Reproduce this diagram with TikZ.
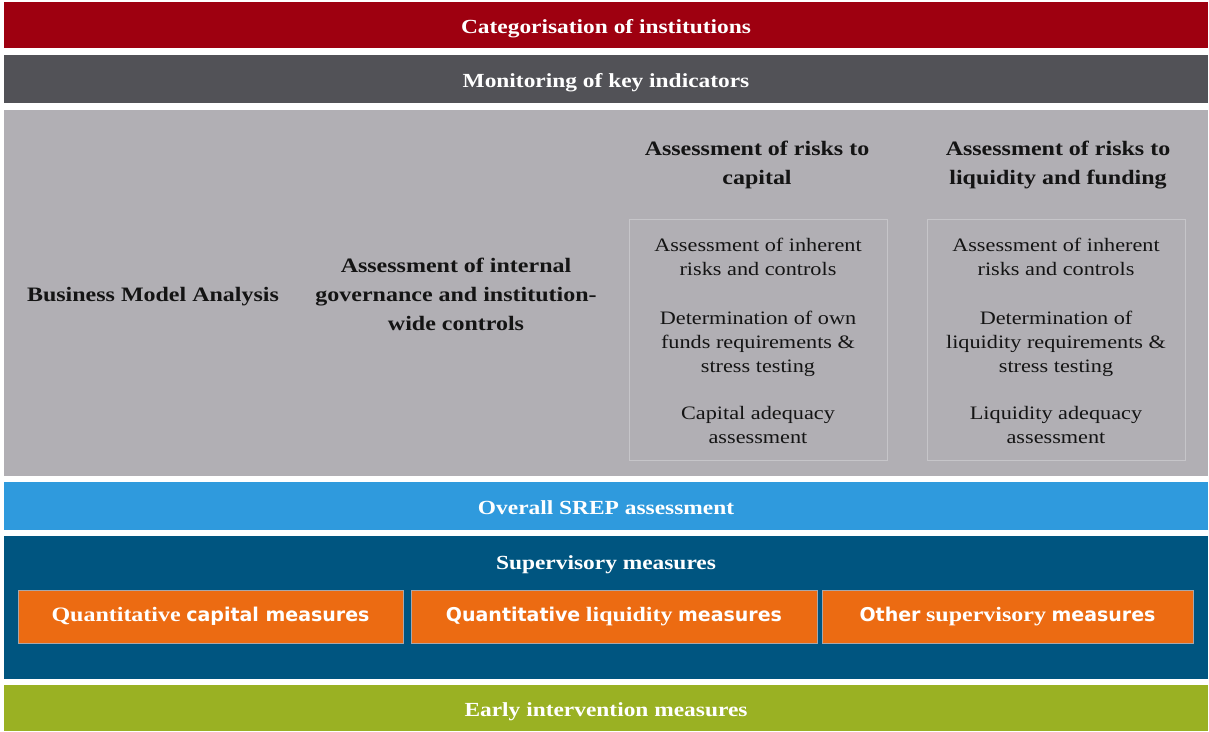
\documentclass[tikz,border=0pt]{standalone}
\usepackage{fontspec}
\setmainfont{Liberation Serif}[FakeStretch=1.17]
\newfontfamily\srepsans{DejaVu Sans}
\definecolor{srepred}{HTML}{9E0010}
\definecolor{srepdark}{HTML}{525257}
\definecolor{sreplight}{HTML}{B1AFB4}
\definecolor{srepframe}{HTML}{C6C5C9}
\definecolor{srepblue}{HTML}{2F9ADD}
\definecolor{srepnavy}{HTML}{005580}
\definecolor{sreporange}{HTML}{EC6B12}
\definecolor{srepgreen}{HTML}{9AB123}
\definecolor{sreptext}{HTML}{141414}
\newcommand{\srepbandsize}{\fontsize{20}{24}\selectfont}
\newcommand{\srepheadsize}{\fontsize{20.5}{29}\selectfont}
\newcommand{\srepbodysize}{\fontsize{19}{24}\selectfont}
\newcommand{\srepboxsize}{\fontsize{19}{22}\selectfont}
\newcommand{\srepboxserif}{\fontsize{20.5}{22}\selectfont}

\begin{document}
\begin{tikzpicture}[x=1pt,y=-1pt]
			\useasboundingbox (0,0) rectangle (1209,731);
			\begin{scope}[inner sep=0pt,outer sep=0pt]
			\tikzstyle{every node}=[rectangle]
			\tikzstyle{band}=[minimum width=1204,minimum height=48,text height=16,text depth=0,text=white,font=\bfseries\srepbandsize]
			\tikzstyle{head}=[text=sreptext,align=center,font=\bfseries\srepheadsize]
			\tikzstyle{body}=[text=sreptext,align=center,font=\srepbodysize]
			\tikzstyle{frame}=[draw=srepframe,line width=0.8pt,minimum width=258,minimum height=241]
			\tikzstyle{measure}=[draw=srepframe!85!black,line width=1pt,fill=sreporange,minimum height=53,text=white,font=\bfseries\srepboxsize]
			% bands
			\node[band,fill=srepred,minimum height=46] (cat) at (606,25) {Categorisation of institutions};
			\node[band,fill=srepdark] (mon) at (606,79) {Monitoring of key indicators};
			\node[band,fill=sreplight,minimum height=366] (ana) at (606,293) {};
			\node[band,fill=srepblue] (srep) at (606,506) {Overall SREP assessment};
			\node[band,fill=srepnavy,minimum height=143] (sup) at (606,607.5) {};
			\node[band,fill=srepgreen,minimum height=46] (early) at (606,708) {Early intervention measures};
			% analysis elements
			\node[head] (bma) at (153,297) {Business Model Analysis};
			\node[head] (gov) at (456,294) {Assessment of internal\\governance and institution-\\wide controls};
			\node[head] (caphead) at (757,165) {Assessment of risks to\\capital};
			\node[head] (liqhead) at (1058,165) {Assessment of risks to\\liquidity and funding};
			\node[frame] (capbox) at (758,339.5) {};
			\node[frame] (liqbox) at (1056,339.5) {};
			\node[body] (capinh) at (758,257) {Assessment of inherent\\risks and controls};
			\node[body] (capown) at (758,344) {Determination of own\\funds requirements \&\\stress testing};
			\node[body] (capade) at (758,425) {Capital adequacy\\assessment};
			\node[body] (liqinh) at (1056,257) {Assessment of inherent\\risks and controls};
			\node[body] (liqreq) at (1056,344) {Determination of\\liquidity requirements \&\\stress testing};
			\node[body] (liqade) at (1056,425) {Liquidity adequacy\\assessment};
			% supervisory measures
			\node[text=white,text height=16,text depth=0,font=\bfseries\srepbandsize] (suptitle) at (606,561) {Supervisory measures};
			\node[measure,minimum width=385] (qcap) at (210.5,616.5) {{\srepboxserif Quantitative} {\srepsans capital measures}};
			\node[measure,minimum width=406] (qliq) at (614,616.5) {{\srepsans Quantitative} {\srepboxserif liquidity} {\srepsans measures}};
			\node[measure,minimum width=371] (other) at (1007.5,616.5) {{\srepsans Other} {\srepboxserif supervisory} {\srepsans measures}};
			\end{scope}
		\end{tikzpicture}
\end{document}
